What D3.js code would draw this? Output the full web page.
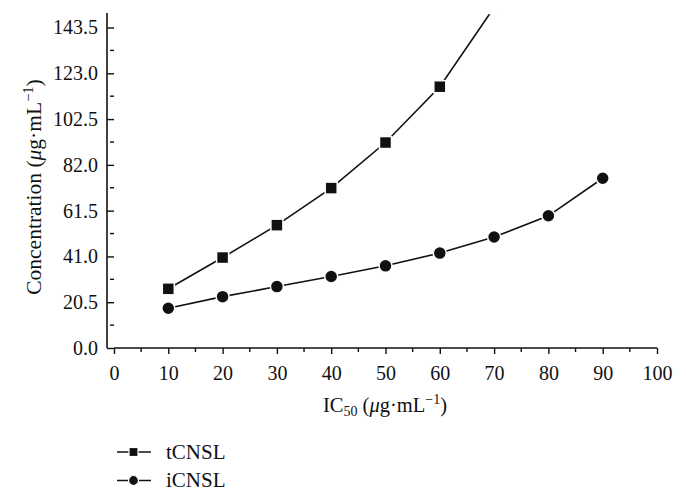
<!DOCTYPE html>
<html><head><meta charset="utf-8">
<script src="https://cdn.jsdelivr.net/npm/d3@7"></script>
<style>body{margin:0;background:#fff}svg{display:block}text{font-family:"Liberation Serif","DejaVu Serif",serif;fill:#111}</style>
</head><body>
<svg id="c" width="686" height="498"></svg>
<script>
const xValues = [10, 20, 30, 40, 50, 60, 70, 80, 90];
const tCNSL = [26.5, 40.5, 55.0, 71.6, 92.0, 117.0, 152.5];
const iCNSL = [17.8, 23.0, 27.5, 32.0, 36.8, 42.5, 49.7, 59.2, 76.0];
const yTickValues = [0.0, 20.5, 41.0, 61.5, 82.0, 102.5, 123.0, 143.5];
const xTickValues = [0, 10, 20, 30, 40, 50, 60, 70, 80, 90, 100];
const seriesNames = ["tCNSL", "iCNSL"];

const svg = d3.select("#c");
const x = d3.scaleLinear().domain([0, 100]).range([114, 657]);
const y = d3.scaleLinear().domain([0, 150]).range([348, 13]);
const ink = "#111";
const FONT = '"Liberation Serif","DejaVu Serif",serif';

svg.append("defs").append("clipPath").attr("id", "clip")
  .append("rect").attr("x", 114).attr("y", 13).attr("width", 543).attr("height", 335);

// Y axis
const yAxis = d3.axisLeft(y).tickValues(yTickValues).tickFormat(d3.format(".1f")).tickSize(7).tickPadding(9);
const gy = svg.append("g").attr("transform", "translate(114,0)").call(yAxis);
const yMinor = yTickValues.slice(0, -1).map(v => v + 10.25);
gy.selectAll(".minor").data(yMinor).enter().append("line").attr("class", "minor")
  .attr("x1", -4).attr("x2", 0).attr("y1", d => y(d)).attr("y2", d => y(d));

// X axis
const xAxis = d3.axisBottom(x).tickValues(xTickValues).tickSize(6).tickPadding(12);
const gx = svg.append("g").attr("transform", "translate(0,348)").call(xAxis);
const xMinor = xTickValues.slice(0, -1).map(v => v + 5);
gx.selectAll(".minor").data(xMinor).enter().append("line").attr("class", "minor")
  .attr("y1", 0).attr("y2", 4).attr("x1", d => x(d)).attr("x2", d => x(d));

[gx, gy].forEach(g => {
  g.attr("font-family", FONT).attr("font-size", 20);
  g.select(".domain").attr("stroke", ink).attr("stroke-width", 1.6);
  g.selectAll("line").attr("stroke", ink).attr("stroke-width", 1.4);
  g.selectAll("text").attr("fill", ink);
});
gy.select(".domain").attr("d", `M-7,${y(0)}V${y(150)}`);
gx.select(".domain").attr("d", `M${x(0)},0H${x(100)}`);

// Lines
const line = d3.line().x((d, i) => x(xValues[i])).y(d => y(d));
const plot = svg.append("g").attr("clip-path", "url(#clip)");
[tCNSL, iCNSL].forEach(s => {
  plot.append("path").datum(s).attr("d", line).attr("fill", "none")
    .attr("stroke", ink).attr("stroke-width", 1.6);
});
// markers
plot.selectAll(".sq").data(tCNSL).enter().append("rect").attr("class", "sq")
  .attr("x", (d, i) => x(xValues[i]) - 6).attr("y", d => y(d) - 6)
  .attr("width", 12).attr("height", 12).attr("fill", ink)
  .attr("stroke", "#fff").attr("stroke-width", 1.5);
plot.selectAll(".ci").data(iCNSL).enter().append("circle").attr("class", "ci")
  .attr("cx", (d, i) => x(xValues[i])).attr("cy", d => y(d)).attr("r", 6.5)
  .attr("fill", ink).attr("stroke", "#fff").attr("stroke-width", 1.5);

// Axis titles
const xt = svg.append("text").attr("x", 385).attr("y", 412).attr("text-anchor", "middle").attr("font-size", 20.5);
xt.append("tspan").text("IC");
xt.append("tspan").attr("dy", 4).attr("font-size", 14).text("50");
xt.append("tspan").attr("dy", -4).text(" (");
xt.append("tspan").attr("font-style", "italic").text("μ");
xt.append("tspan").text("g·mL");
xt.append("tspan").attr("dy", -8).attr("font-size", 14).text("−1");
xt.append("tspan").attr("dy", 8).text(")");

const yt = svg.append("text").attr("transform", "translate(41,187) rotate(-90)").attr("text-anchor", "middle").attr("font-size", 21.5);
yt.append("tspan").text("Concentration (");
yt.append("tspan").attr("font-style", "italic").text("μ");
yt.append("tspan").text("g·mL");
yt.append("tspan").attr("dy", -8).attr("font-size", 14.5).text("−1");
yt.append("tspan").attr("dy", 8).text(")");

// Legend
const leg = svg.append("g");
seriesNames.forEach((name, i) => {
  const cy = 452 + i * 28.5;
  leg.append("line").attr("x1", 117).attr("x2", 151).attr("y1", cy).attr("y2", cy)
    .attr("stroke", ink).attr("stroke-width", 1.5);
  if (i === 0) {
    leg.append("rect").attr("x", 129).attr("y", cy - 4.5).attr("width", 9).attr("height", 9)
      .attr("fill", ink).attr("stroke", "#fff").attr("stroke-width", 1.2);
  } else {
    leg.append("circle").attr("cx", 133.5).attr("cy", cy).attr("r", 5)
      .attr("fill", ink).attr("stroke", "#fff").attr("stroke-width", 1.2);
  }
  leg.append("text").attr("x", 166).attr("y", cy + 6.5).attr("font-size", 21).text(name);
});
</script>
</body></html>
